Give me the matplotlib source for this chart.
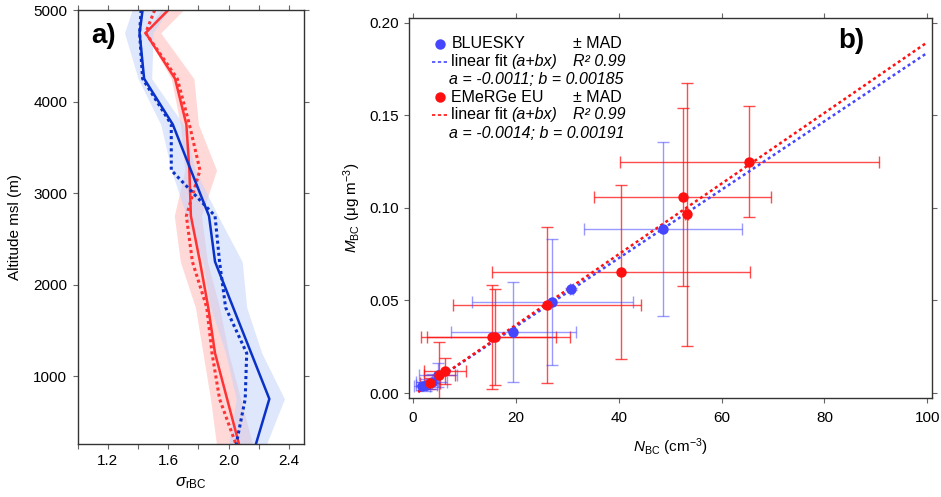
import numpy as np
import matplotlib.pyplot as plt
from matplotlib.lines import Line2D

plt.rcParams['font.family'] = ['Liberation Sans', 'DejaVu Sans']
plt.rcParams['mathtext.fontset'] = 'custom'
plt.rcParams['mathtext.rm'] = 'Liberation Sans'
plt.rcParams['mathtext.it'] = 'Liberation Sans:italic'

# --- panel a: sigma of the rBC size distribution vs altitude ---
alt = np.array([5000, 4750, 4250, 3750, 3250, 2750, 2250, 1750, 1250, 750, 250])

bs_solid = np.array([1.43, 1.41, 1.44, 1.63, 1.75, 1.87, 1.91, 2.03, 2.15, 2.27, 2.18])
bs_dot = np.array([1.42, 1.41, 1.43, 1.62, 1.62, 1.91, 1.94, 1.98, 2.12, 2.11, 2.05])
bs_lo = np.array([1.36, 1.31, 1.40, 1.55, 1.62, 1.72, 1.83, 1.88, 1.98, 2.05, 2.00])
bs_hi = np.array([1.60, 1.50, 1.49, 1.70, 1.78, 1.93, 2.09, 2.12, 2.22, 2.37, 2.25])

eu_solid = np.array([1.60, 1.45, 1.645, 1.72, 1.74, 1.75, 1.81, 1.865, 1.91, 1.99, 2.07])
eu_dot = np.array([1.51, 1.45, 1.66, 1.74, 1.81, 1.72, 1.76, 1.855, 1.89, 1.94, 2.05])
eu_lo = np.array([1.55, 1.45, 1.62, 1.68, 1.71, 1.64, 1.68, 1.78, 1.83, 1.88, 1.92])
eu_hi = np.array([1.70, 1.55, 1.77, 1.80, 1.92, 1.82, 1.86, 1.94, 2.00, 2.08, 2.16])

# --- panel b: mass vs number concentration ---
bs_n = np.array([48.6, 30.8, 27.1, 19.5, 4.9, 3.6, 2.6, 1.7])
bs_m = np.array([0.0885, 0.0562, 0.049, 0.0328, 0.0095, 0.0061, 0.0043, 0.0038])
bs_nerr = np.array([15.4, 0.3, 15.6, 12.2, 3.7, 3.0, 2.0, 1.5])
bs_merr = np.array([0.047, 0.0005, 0.034, 0.027, 0.0065, 0.004, 0.003, 0.002])

eu_n = np.array([65.4, 52.4, 53.2, 40.4, 26.0, 15.3, 16.0, 6.2, 5.1, 3.3])
eu_m = np.array([0.1249, 0.1058, 0.0966, 0.0656, 0.0475, 0.0302, 0.0302, 0.0119, 0.0097, 0.0052])
eu_nerr = np.array([25.2, 17.2, 0.3, 25.1, 18.3, 12.5, 14.5, 4.0, 3.0, 2.0])
eu_merr = np.array([0.030, 0.048, 0.071, 0.047, 0.042, 0.028, 0.026, 0.007, 0.018, 0.003])

fit_a = {'bs': -0.0011, 'eu': -0.0014}
fit_b = {'bs': 0.00185, 'eu': 0.00191}

blue_dark = '#0a32c8'
red_line = '#ff3333'
blue_pt = '#4646ff'
red_pt = '#ff1010'

fig = plt.figure(figsize=(9.41, 4.97), dpi=100)
ax1 = fig.add_axes([0.0826, 0.1066, 0.2405, 0.8732])
ax2 = fig.add_axes([0.4346, 0.1992, 0.5558, 0.7646])

for ax in (ax1, ax2):
    for s in ax.spines.values():
        s.set_color('#333333')
        s.set_linewidth(1.0)
    ax.tick_params(which='both', direction='out', color='#666666', labelsize=11,
                   top=True, right=True, labeltop=False, labelright=False, pad=4)

# panel a
ax1.fill_betweenx(alt, eu_lo, eu_hi, color='#ffb8b8', alpha=0.55, lw=0)
ax1.plot(eu_solid, alt, color=red_line, lw=1.8)
ax1.plot(eu_dot, alt, color=red_line, lw=2.2, ls=(0, (1, 1)))
ax1.fill_betweenx(alt, bs_lo, bs_hi, color='#c4d4fa', alpha=0.55, lw=0)
ax1.plot(bs_solid, alt, color=blue_dark, lw=1.8)
ax1.plot(bs_dot, alt, color=blue_dark, lw=2.2, ls=(0, (1, 1)))

ax1.set_xlim(1.0, 2.5)
ax1.set_ylim(257, 5000)
ax1.set_xticks([1.0, 1.2, 1.4, 1.6, 1.8, 2.0, 2.2, 2.4])
ax1.set_xticklabels(['', '1.2', '', '1.6', '', '2.0', '', '2.4'])
ax1.set_yticks([1000, 2000, 3000, 4000, 5000])
ax1.set_xlabel(r'$\sigma_{\mathregular{rBC}}$', fontsize=12, labelpad=5)
ax1.set_ylabel('Altitude msl (m)', fontsize=11, labelpad=8)
ax1.text(0.06, 0.94, 'a)', transform=ax1.transAxes, fontsize=20, fontweight='bold',
         va='center')

# panel b
ax2.errorbar(eu_n, eu_m, xerr=eu_nerr, yerr=eu_merr, fmt='none', ecolor=red_pt,
             elinewidth=1.0, capsize=4, alpha=0.75)
ax2.errorbar(bs_n, bs_m, xerr=bs_nerr, yerr=bs_merr, fmt='none', ecolor=blue_pt,
             elinewidth=1.0, capsize=4, alpha=0.55)
xf = np.array([1.0, 100.0])
ax2.plot(xf, fit_a['bs'] + fit_b['bs'] * xf, color=blue_pt, lw=1.8, ls=(0, (1.2, 1.2)))
ax2.plot(xf, fit_a['eu'] + fit_b['eu'] * xf, color=red_pt, lw=1.8, ls=(0, (1.2, 1.2)))
ax2.plot(bs_n, bs_m, 'o', color=blue_pt, ms=7.5, mec='none')
ax2.plot(eu_n, eu_m, 'o', color=red_pt, ms=7.5, mec='none')

ax2.set_xlim(-0.8, 100.9)
ax2.set_ylim(-0.0027, 0.2027)
ax2.set_xticks([0, 20, 40, 60, 80, 100])
ax2.set_yticks([0.0, 0.05, 0.10, 0.15, 0.20])
ax2.set_yticklabels(['0.00', '0.05', '0.10', '0.15', '0.20'])
ax2.tick_params(axis='x', pad=6)
ax2.set_xlabel(r'$N_{\mathregular{BC}}$ (cm$^{\mathregular{-3}}$)', fontsize=11, labelpad=8)
ax2.set_ylabel(r'$M_{\mathregular{BC}}$ ($\mathregular{\mu}$g m$^{\mathregular{-3}}$)', fontsize=11)
ax2.text(0.82, 0.94, 'b)', transform=ax2.transAxes, fontsize=20, fontweight='bold',
         va='center')

# legend block
tr = ax2.transAxes
fs = 11.5
rows = [0.932, 0.885, 0.837, 0.791, 0.745, 0.697]
x_txt, x_fit, x_col = 0.081, 0.196, 0.314
ax2.add_line(Line2D([0.059], [rows[0]], marker='o', color=blue_pt, ms=7.5, mec='none', transform=tr))
ax2.text(x_txt, rows[0], 'BLUESKY', transform=tr, fontsize=fs, va='center')
ax2.text(x_col, rows[0], '\u00b1 MAD', transform=tr, fontsize=fs, va='center')
ax2.add_line(Line2D([0.044, 0.076], [rows[1]] * 2, color=blue_pt, lw=1.2, ls=(0, (2, 1.5)), transform=tr))
ax2.text(x_txt, rows[1], 'linear fit', transform=tr, fontsize=fs, va='center')
ax2.text(x_fit, rows[1], '(a+bx)', transform=tr, fontsize=fs, va='center', style='italic')
ax2.text(x_col, rows[1], 'R\u00b2 0.99', transform=tr, fontsize=fs, va='center', style='italic')
ax2.text(0.0765, rows[2], 'a = %.4f; b = %.5f' % (fit_a['bs'], fit_b['bs']), transform=tr,
         fontsize=fs, va='center', style='italic')
ax2.add_line(Line2D([0.059], [rows[3]], marker='o', color=red_pt, ms=7.5, mec='none', transform=tr))
ax2.text(x_txt, rows[3], 'EMeRGe EU', transform=tr, fontsize=fs, va='center')
ax2.text(x_col, rows[3], '\u00b1 MAD', transform=tr, fontsize=fs, va='center')
ax2.add_line(Line2D([0.044, 0.076], [rows[4]] * 2, color=red_pt, lw=1.2, ls=(0, (2, 1.5)), transform=tr))
ax2.text(x_txt, rows[4], 'linear fit', transform=tr, fontsize=fs, va='center')
ax2.text(x_fit, rows[4], '(a+bx)', transform=tr, fontsize=fs, va='center', style='italic')
ax2.text(x_col, rows[4], 'R\u00b2 0.99', transform=tr, fontsize=fs, va='center', style='italic')
ax2.text(0.0765, rows[5], 'a = %.4f; b = %.5f' % (fit_a['eu'], fit_b['eu']), transform=tr,
         fontsize=fs, va='center', style='italic')

fig.savefig('out.png', dpi=100)
